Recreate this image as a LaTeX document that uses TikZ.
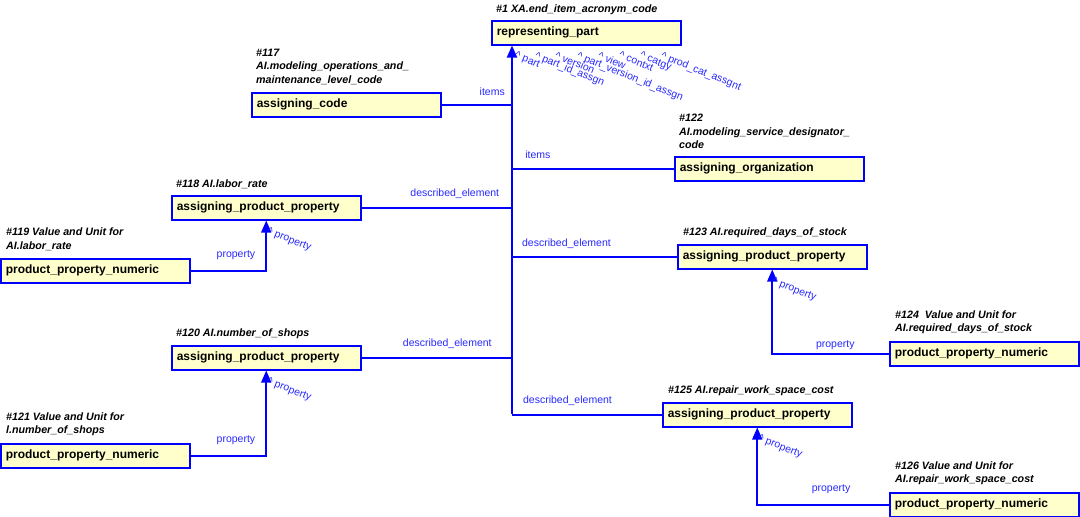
\documentclass[tikz,border=0pt]{standalone}
\usepackage{fontspec}
\setmainfont{Liberation Sans}
\usetikzlibrary{positioning,arrows.meta}

\definecolor{boxfill}{RGB}{255,255,204}
\definecolor{linkblue}{RGB}{0,0,255}
\definecolor{lblblue}{RGB}{40,40,255}

\tikzset{
  entity/.style={draw=linkblue, line width=1.5pt, fill=boxfill, anchor=north west,
    minimum width=189pt, minimum height=24pt, text width=179pt, inner xsep=5pt,
    align=left, font=\fontsize{12}{14}\selectfont\bfseries},
  caption/.style={inner sep=0pt, align=left,
    font=\fontsize{10.7}{13.5}\selectfont\bfseries\itshape},
  lbl/.style={inner sep=0pt, text=lblblue, font=\fontsize{10.5}{12}\selectfont},
  rlbl/.style={lbl, anchor=north west, rotate=-22},
  link/.style={draw=linkblue, line width=1.6pt},
  tip/.style={-{Triangle[length=12pt,width=10pt]}}
}

\begin{document}
\begin{tikzpicture}[x=1pt,y=-1pt]
\useasboundingbox (0,0) rectangle (1080,517);

% entities
\node[entity] (rp)   at (491,20)  {representing\_part};
\node[entity] (ac)   at (251,92)  {assigning\_code};
\node[entity] (ao)   at (674,156) {assigning\_organization};
\node[entity] (a118) at (171,195) {assigning\_product\_property};
\node[entity] (p119) at (0,258)   {product\_property\_numeric};
\node[entity] (a123) at (677,244) {assigning\_product\_property};
\node[entity] (p124) at (889,341) {product\_property\_numeric};
\node[entity] (a120) at (171,345) {assigning\_product\_property};
\node[entity] (p121) at (0,443)   {product\_property\_numeric};
\node[entity] (a125) at (662,402) {assigning\_product\_property};
\node[entity] (p126) at (889,492) {product\_property\_numeric};

% captions
\node[caption, above right=5pt and 5pt of rp.north west] {\#1 XA.end\_item\_acronym\_code};
\node[caption, above right=7pt and 5pt of ac.north west] {\#117\\AI.modeling\_operations\_and\_\\maintenance\_level\_code};
\node[caption, above right=7pt and 5pt of ao.north west] {\#122\\AI.modeling\_service\_designator\_\\code};
\node[caption, above right=6pt and 5pt of a118.north west] {\#118 AI.labor\_rate};
\node[caption, above right=7pt and 6pt of p119.north west] {\#119 Value and Unit for\\AI.labor\_rate};
\node[caption, above right=6pt and 6pt of a123.north west] {\#123 AI.required\_days\_of\_stock};
\node[caption, above right=7pt and 6pt of p124.north west] {\#124\ \ Value and Unit for\\AI.required\_days\_of\_stock};
\node[caption, above right=6pt and 5pt of a120.north west] {\#120 AI.number\_of\_shops};
\node[caption, above right=7pt and 6pt of p121.north west] {\#121 Value and Unit for\\l.number\_of\_shops};
\node[caption, above right=6pt and 6pt of a125.north west] {\#125 AI.repair\_work\_space\_cost};
\node[caption, above right=7pt and 6pt of p126.north west] {\#126 Value and Unit for\\AI.repair\_work\_space\_cost};

% bus into representing_part
\coordinate (busbot) at (512,414);
\draw[link, line width=2pt, tip] (busbot) -- (rp.south -| busbot);

\draw[link] (ac.east) -- (ac.east -| busbot) node[lbl, pos=0.72, above=8pt] {items};
\draw[link] (busbot |- ao.west) -- (ao.west) node[lbl, pos=0.16, above=9pt] {items};
\draw[link] (a118.east) -- (a118.east -| busbot) node[lbl, pos=0.62, above=8pt] {described\_element};
\draw[link] (busbot |- a123.west) -- (a123.west) node[lbl, pos=0.33, above=7pt] {described\_element};
\draw[link] (a120.east) -- (a120.east -| busbot) node[lbl, pos=0.57, above=8pt] {described\_element};
\draw[link] (busbot |- a125.west) -- (a125.west) node[lbl, pos=0.37, above=8pt] {described\_element};

% role names at representing_part
\foreach \x/\t in {517/part, 537/part\_id\_assgn, 557/version, 579/part\_version\_id\_assgn,
    600/view, 621/contxt, 642/catgy, 663/prod\_cat\_assgnt}
  \node[rlbl] at (\x,51) {\textasciicircum\ \t};

% property links
\draw[link, tip] (p119.east) -| (a118.south) node[lbl, pos=0.3, above=10pt] {property};
\node[rlbl, below right=6pt and 3pt of a118.south] {\textasciicircum\ property};
\draw[link, tip] (p124.west) -| (a123.south) node[lbl, pos=0.23, above=3pt] {property};
\node[rlbl, below right=7pt and 2pt of a123.south] {\textasciicircum\ property};
\draw[link, tip] (p121.east) -| (a120.south) node[lbl, pos=0.3, above=10pt] {property};
\node[rlbl, below right=6pt and 3pt of a120.south] {\textasciicircum\ property};
\draw[link, tip] (p126.west) -| (a125.south) node[lbl, pos=0.22, above=10pt] {property};
\node[rlbl, below right=6pt and 3pt of a125.south] {\textasciicircum\ property};
\end{tikzpicture}
\end{document}
